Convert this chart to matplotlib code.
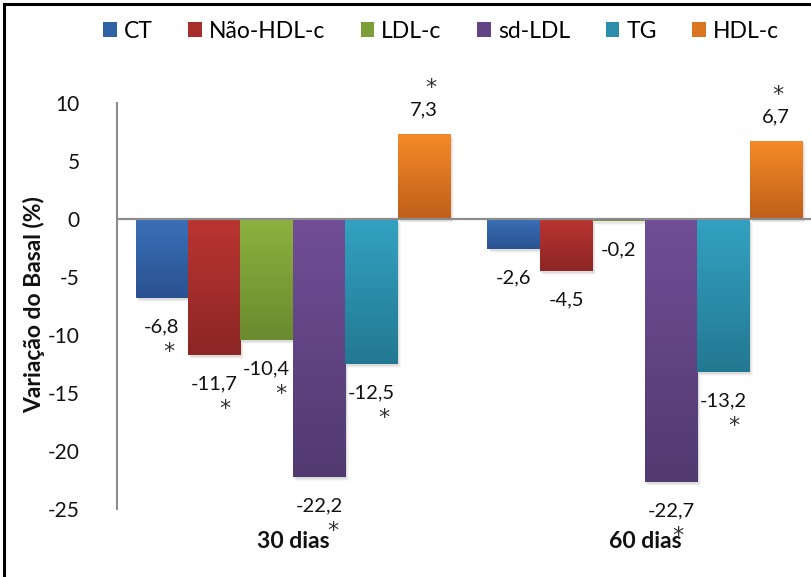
import numpy as np
import matplotlib
matplotlib.use("Agg")
import matplotlib.pyplot as plt
from matplotlib.colors import LinearSegmentedColormap
from matplotlib.patches import Patch, Rectangle
from matplotlib.lines import Line2D
import matplotlib.transforms as mtransforms

plt.rcParams['font.family'] = ['Lato', 'DejaVu Sans']

# Data
periods = ["30 dias", "60 dias"]
series = ["CT", "Não-HDL-c", "LDL-c", "sd-LDL", "TG", "HDL-c"]
values_30 = [-6.8, -11.7, -10.4, -22.2, -12.5, 7.3]
values_60 = [-2.6, -4.5, -0.2, -22.7, -13.2, 6.7]
signif_30 = [True, True, True, True, True, True]
signif_60 = [False, False, False, True, True, True]
yticks = [10, 5, 0, -5, -10, -15, -20, -25]

# Style: gradient top (light) -> bottom (dark)
top_colors = ["#3A70B8", "#BA3532", "#8DB13F", "#714E97", "#33A2C2", "#F58A28"]
bot_colors = ["#2A5190", "#8C2624", "#6A8A2E", "#513A70", "#237891", "#BF5F1A"]
mid_colors = ["#3262A6", "#A72E2B", "#7C9E37", "#624485", "#2C8EAB", "#DB7521"]

# significance-mark horizontal offsets (pixels from bar centre)
ast_dx_30 = [7, 11, 14, 14, 12, 5]
ast_dx_60 = [0, 0, 0, 7, 10, 0]

W, H = 811, 577
fig = plt.figure(figsize=(W / 100, H / 100), dpi=100)
ax_left, ax_right = 117, 821
ax_top, ax_bot = 103, 509
ax = fig.add_axes([ax_left / W, 1 - ax_bot / H, (ax_right - ax_left) / W, (ax_bot - ax_top) / H])

n = len(series)
bw = 52.5 / 352.0
xc = np.arange(len(periods))
all_vals = [values_30, values_60]
all_sig = [signif_30, signif_60]
all_dx = [ast_dx_30, ast_dx_60]

ast_kw = dict(ha='center', va='center', fontsize=16, color='#333333', zorder=5,
              family='DejaVu Sans')

for g, vals in enumerate(all_vals):
    for i, v in enumerate(vals):
        x0 = xc[g] + (i - n / 2) * bw
        x1 = x0 + bw
        y0, y1 = min(0, v), max(0, v)
        # soft drop shadow
        for k, a in enumerate([0.10, 0.07, 0.04]):
            off = mtransforms.offset_copy(ax.transData, fig=fig, x=1.5 + k, y=-2 - k, units='dots')
            ax.add_patch(Rectangle((x0, y0), bw, y1 - y0, facecolor='#555555',
                                   edgecolor='none', alpha=a, transform=off, zorder=1))
        cmap = LinearSegmentedColormap.from_list("g", [top_colors[i], bot_colors[i]])
        grad = np.linspace(0, 1, 256).reshape(-1, 1)
        ax.imshow(grad, cmap=cmap, extent=[x0, x1, y0, y1], origin='upper',
                  aspect='auto', interpolation='bilinear', zorder=2)

        # value label and significance mark
        lab = f"{v:.1f}".replace('.', ',')
        cx = (x0 + x1) / 2
        if v < 0:
            ax.annotate(lab, (cx, v), xytext=(0, -29), textcoords='offset pixels',
                        ha='center', va='center', fontsize=14.5, color='#111111', zorder=5)
            if all_sig[g][i]:
                ax.annotate("*", (cx, v), xytext=(all_dx[g][i], -54), textcoords='offset pixels',
                            **ast_kw)
        else:
            ax.annotate(lab, (cx, v), xytext=(0, 24), textcoords='offset pixels',
                        ha='center', va='center', fontsize=14.5, color='#111111', zorder=5)
            if all_sig[g][i]:
                ax.annotate("*", (cx, v), xytext=(all_dx[g][i] + 2, 46), textcoords='offset pixels',
                            **ast_kw)

ax.axhline(0, color='#8C8C8C', lw=1.6, zorder=3)
ax.set_xlim(-0.5, 1.5)
ax.set_ylim(-25, 10)
ax.set_yticks(yticks)
ax.set_yticklabels([str(t) for t in yticks], fontsize=15, color='#111111')
ax.tick_params(axis='y', length=0, pad=27)
ax.set_xticks(xc)
ax.set_xticklabels(periods, fontsize=16.5, fontweight='bold', color='#111111')
ax.tick_params(axis='x', length=0, pad=16)
for s in ['top', 'right', 'bottom']:
    ax.spines[s].set_visible(False)
ax.spines['left'].set_color('#8C8C8C')
ax.spines['left'].set_linewidth(1.5)
ax.patch.set_alpha(0)

fig.text(34 / W, 1 - 305 / H, "Variação do Basal (%)", rotation=90, ha='center', va='center',
         fontsize=16.5, fontweight='bold', color='#111111')

handles = [Patch(facecolor=mid_colors[i], edgecolor='none') for i in range(n)]
fig.legend(handles, series, loc='center', bbox_to_anchor=(441 / W, 1 - 31 / H), ncol=n,
           frameon=False, fontsize=16.5, handlelength=0.6, handleheight=0.6,
           handletextpad=0.3, columnspacing=1.55)

# outer chart frame
fig.add_artist(Line2D([4 / W, 4 / W], [0, 1 - 4 / H], color='black', lw=2.2, transform=fig.transFigure))
fig.add_artist(Line2D([4 / W, 1], [1 - 4 / H, 1 - 4 / H], color='black', lw=2.2, transform=fig.transFigure))

fig.savefig("out.png", dpi=100)
